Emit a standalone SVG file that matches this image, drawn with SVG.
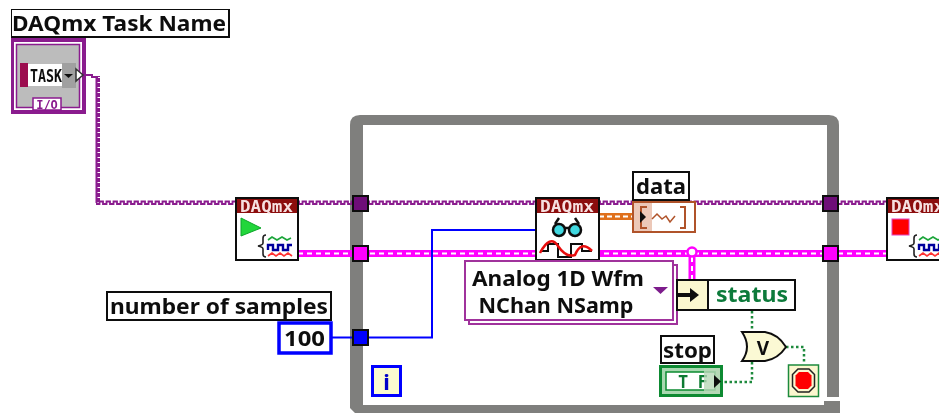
<svg xmlns="http://www.w3.org/2000/svg" width="939" height="413" viewBox="0 0 939 413">
<style>
text{font-family:"Noto Sans","DejaVu Sans",sans-serif;fill:#111}
.lab{fill:#fff;stroke:#111;stroke-width:2}
.t{font-size:21px;font-weight:700}
.hdr{font-family:"DejaVu Sans Mono",monospace;font-size:16px;font-weight:700;fill:#f6e0e0}
.vi{fill:#fff;stroke:#111;stroke-width:2}
.red{fill:#8c0a0a}
.tp{fill:#6e0e78;stroke:#111;stroke-width:2}
.tk{fill:#ff00ff;stroke:#111;stroke-width:2}
.dot{fill:none;stroke:#1e8a3c;stroke-width:2.5;stroke-dasharray:2.5 2.5}
.sig{fill:none;stroke-width:1.6}
</style>
<defs>
<pattern id="wh" width="7" height="8" patternUnits="userSpaceOnUse" y="199"><path d="M0 5H1.500V2.500H5V5H7" fill="none" stroke="#8a1a8e" stroke-width="1.800"/></pattern>
<pattern id="wv" width="8" height="5" patternUnits="userSpaceOnUse" x="94"><path d="M5 0V1H2.500V4H5V5" fill="none" stroke="#8a1a8e" stroke-width="2"/></pattern>
<g id="bundle"><path class="sig" stroke="#222" d="M10 0Q7 0 7 3V8Q7 10 2 11 7 12 7 14V19Q7 22 10 22"/><path class="sig" stroke="#1ca53a" d="M12 5l4-3 5 3 5-3 5 3 4-2"/><path fill="none" stroke="#00009c" stroke-width="2.400" d="M12 15V10H17V15H22V10H27V15H32V10H36"/><path class="sig" stroke="#f33" d="M12 21l4-3 4 3 4-3 4 3 4-3 4 3"/></g>
<filter id="soft" x="0" y="0" width="100%" height="100%"><feGaussianBlur stdDeviation="0.35"/></filter>
</defs>
<rect width="939" height="413" fill="#fff"/>
<g filter="url(#soft)">
<g id="loop">
<path d="M350 408V125Q350 115 360 115H829Q839 115 839 125V397H827V125H363V405H824V401H840V413H355Z" fill="#7f7f7d"/>
</g>
<g id="connectors">
<path d="M85 75H92V77H98" fill="none" stroke="#8a1a8e" stroke-width="2"/>
<rect x="94" y="76" width="8" height="127" fill="url(#wv)"/>
<rect x="96" y="199" width="790" height="8" fill="url(#wh)"/>
<path d="M298 253.500H886" stroke="#ff00ff" stroke-width="7" fill="none"/>
<path d="M298 253.500H886" stroke="#fff" stroke-width="2" stroke-dasharray="5 4" fill="none"/>
<path d="M692 252V279" stroke="#ff00ff" stroke-width="7" fill="none"/>
<path d="M692 257V279" stroke="#fff" stroke-width="2" stroke-dasharray="5 4" fill="none"/>
<circle cx="692" cy="252" r="4.500" fill="#fff" stroke="#ff00ff" stroke-width="2.500"/>
<path d="M332 337.500H432V230H536" stroke="#0000ff" stroke-width="2" fill="none"/>
<path d="M599 216.500H632" stroke="#e0701c" stroke-width="7" fill="none"/>
<path d="M599 216.500H632" stroke="#fff" stroke-width="2" stroke-dasharray="5 3" fill="none"/>
<path class="dot" d="M752 311V331M752 362V382H723M786 347H804V364"/>
</g>
<g id="tunnels">
<rect class="tp" x="353" y="196" width="15" height="15"/>
<rect class="tk" x="353" y="246" width="15" height="15"/>
<rect class="tp" x="823" y="196" width="15" height="15"/>
<rect class="tk" x="823" y="246" width="15" height="15"/>
<rect x="353" y="330" width="15" height="15" fill="#0000ff" stroke="#111" stroke-width="2"/>
</g>
<g id="task-name">
<rect class="lab" x="11" y="9" width="218" height="28"/>
<text class="t" x="12" y="31" textLength="214" lengthAdjust="spacingAndGlyphs">DAQmx Task Name</text>
<rect x="12" y="40" width="72" height="72" fill="#fff" stroke="#8a1a8e" stroke-width="4"/>
<rect x="16.500" y="44.500" width="63" height="63" fill="#bcbcbc" stroke="#8a1a8e" stroke-width="1.500"/>
<rect x="33" y="98" width="28" height="12" fill="#fff" stroke="#8a1a8e" stroke-width="1.500"/>
<text x="47" y="108.500" text-anchor="middle" style="font-family:'DejaVu Sans Mono',monospace;font-size:12px;font-weight:700;fill:#8a1a8e">I/O</text>
<rect x="20" y="63" width="8" height="24" fill="#9c0a50"/>
<rect x="28" y="64" width="35" height="22" fill="#fff"/>
<text x="30" y="82" textLength="32" lengthAdjust="spacingAndGlyphs" style="font-family:'DejaVu Sans Mono',monospace;font-size:18px;font-weight:700">TASK</text>
<rect x="62" y="63" width="14" height="25" fill="#a0a0a0"/>
<path d="M64 74h9l-4.500 4z" fill="#111"/>
<path d="M76 69l7 6-7 6z" fill="#fff" stroke="#333" stroke-width="1.500"/>
</g>
<g id="daqmx-start">
<rect class="vi" x="236" y="198" width="62" height="62"/>
<rect class="red" x="237" y="199" width="60" height="14"/>
<text class="hdr" x="240" y="212" textLength="53" lengthAdjust="spacingAndGlyphs">DAQmx</text>
<path d="M241 218L261 228 241 236Z" fill="#22d63a" stroke="#0fa52a"/>
<use href="#bundle" x="256" y="235"/>
</g>
<g id="daqmx-read">
<rect class="vi" x="536" y="198" width="63" height="62"/>
<rect class="red" x="537" y="199" width="61" height="14"/>
<text class="hdr" x="540" y="212" textLength="54" lengthAdjust="spacingAndGlyphs">DAQmx</text>
<g stroke="#111" stroke-width="2.500"><circle cx="559" cy="230" r="6" fill="#3fd8e0"/><circle cx="575" cy="230" r="6" fill="#3fd8e0"/><path d="M565 228h4M555 224l4-6M579 224l-4-6" fill="none"/></g>
<path d="M540 251H548V244H558V257H571V244H582V251H592" fill="none" stroke="#111" stroke-width="2"/>
<path d="M540 253Q550 234 558 246T575 255Q581 240 592 251" fill="none" stroke="#e81010" stroke-width="2.500"/>
</g>
<g id="daqmx-stop">
<rect class="vi" x="887" y="198" width="60" height="62"/>
<rect class="red" x="888" y="199" width="60" height="14"/>
<text class="hdr" x="891" y="212" textLength="53" lengthAdjust="spacingAndGlyphs">DAQmx</text>
<rect x="892" y="219" width="17" height="16" fill="#f00" stroke="#e040c0"/>
<use href="#bundle" x="907" y="235"/>
</g>
<g id="data">
<rect class="lab" x="633" y="172" width="56" height="28"/>
<text class="t" x="636" y="194" textLength="50" lengthAdjust="spacingAndGlyphs">data</text>
<rect x="633" y="202" width="62" height="30" fill="#fff" stroke="#b0532a" stroke-width="2"/>
<rect x="634" y="203" width="18" height="28" fill="#ecc8b8"/>
<path d="M647 207h-6v21h6M680 207h5v21h-5" fill="none" stroke="#b0532a" stroke-width="2"/>
<path d="M640 211l6 6-6 6z" fill="#111"/>
<path d="M652 219l5-5 5 5 4-3 4 6 5-6" fill="none" stroke="#b0532a" stroke-width="1.500"/>
</g>
<g id="read-selector">
<rect x="469" y="265" width="208" height="59" fill="#fff" stroke="#a0309c" stroke-width="2"/>
<rect x="465" y="261" width="208" height="59" fill="#fff" stroke="#a0309c" stroke-width="2"/>
<text x="558" y="286" text-anchor="middle" class="t" textLength="172" lengthAdjust="spacingAndGlyphs">Analog 1D Wfm</text>
<text x="556" y="313" text-anchor="middle" class="t" textLength="155" lengthAdjust="spacingAndGlyphs">NChan NSamp</text>
<path d="M653 287h15l-7.500 7z" fill="#7d1e8c"/>
</g>
<g id="status">
<rect x="677" y="280" width="31" height="30" fill="#fbf7cf" stroke="#111" stroke-width="2"/>
<rect x="708" y="280" width="87" height="30" fill="#fff" stroke="#111" stroke-width="2"/>
<path d="M677 295H691" fill="none" stroke="#111" stroke-width="4"/>
<path d="M690 288L699 295 690 302Z" fill="#111"/>
<text class="t" x="716" y="302" textLength="72" lengthAdjust="spacingAndGlyphs" style="fill:#0b7a3a">status</text>
</g>
<g id="samples">
<rect class="lab" x="107" y="292" width="224" height="28"/>
<text class="t" x="110" y="314" textLength="218" lengthAdjust="spacingAndGlyphs">number of samples</text>
<rect x="279" y="323" width="52" height="30" fill="#fff" stroke="#0000ff" stroke-width="3.500"/>
<text class="t" x="284" y="346" textLength="41" lengthAdjust="spacingAndGlyphs">100</text>
</g>
<g id="iteration">
<rect x="372.500" y="366.500" width="28" height="29" fill="#fbfbd0" stroke="#0000ff" stroke-width="3"/>
<text x="386.500" y="390" text-anchor="middle" style="font-size:22px;font-weight:700;fill:#0000c8">i</text>
</g>
<g id="stop-control">
<rect class="lab" x="661" y="336" width="53" height="27"/>
<text class="t" x="663" y="358" textLength="49" lengthAdjust="spacingAndGlyphs">stop</text>
<rect x="660.500" y="366.500" width="61" height="29" fill="#a8d8b0" stroke="#0a8a30" stroke-width="3"/>
<rect x="666" y="372" width="49" height="18" fill="#fff" stroke="#0a8a30" stroke-width="1.500"/>
<text x="678" y="388" textLength="30" style="font-family:'DejaVu Sans Mono',monospace;font-size:17px;font-weight:700;fill:#0a7a30">TF</text>
<rect x="704" y="368" width="16" height="26" fill="#b8d8b8" fill-opacity="0.800"/>
<path d="M714 375l7 6.500-7 6.500z" fill="#111"/>
</g>
<g id="or-gate">
<path d="M742 332H765Q778 334 786 347 778 359 765 361H742Q752 347 742 332Z" fill="#fbf9d4" stroke="#111" stroke-width="2"/>
<text x="763" y="355" text-anchor="middle" style="font-size:19px;font-weight:700">V</text>
</g>
<g id="stop-terminal">
<rect x="788.500" y="365" width="30" height="31.500" fill="#fbf7cf" stroke="#1e8a3c" stroke-width="1.500"/>
<path d="M798 369H809L814.500 374.500V386.500L809 392H798L792.500 386.500V374.500Z" fill="#fbf7cf" stroke="#222" stroke-width="1.500"/>
<path d="M799 372H808L811.500 375.500V385.500L808 389H799L795.500 385.500V375.500Z" fill="#f00"/>
</g>
</g>
</svg>
